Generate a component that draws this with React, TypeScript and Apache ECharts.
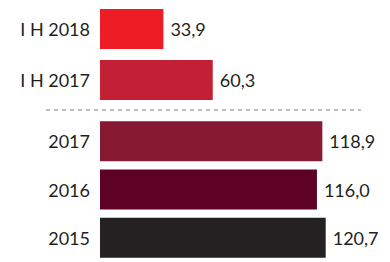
import React, { useEffect, useRef } from "react";
import * as echarts from "echarts";

const halfCategories = ["I H 2018", "I H 2017"];
const halfValues = [33.9, 60.3];
const halfColors = ["#EE1D25", "#C42035"];

const yearCategories = ["2017", "2016", "2015"];
const yearValues = [118.9, 116.0, 120.7];
const yearColors = ["#871A33", "#5D0222", "#242122"];

const FONT = "Lato";
const TEXT_COLOR = "#231F20";

export default function App() {
  const ref = useRef<HTMLDivElement>(null);

  useEffect(() => {
    document.body.style.margin = "0";
    if (!ref.current) return;
    const chart = echarts.init(ref.current, null, { renderer: "svg" });

    const labelFmt = (p: any) => Number(p.value).toFixed(1).replace(".", ",");

    const catAxis = (gridIndex: number, data: string[]) => ({
      type: "category" as const,
      gridIndex,
      data,
      inverse: true,
      axisLine: { show: false },
      axisTick: { show: false },
      axisLabel: {
        fontSize: 18,
        fontFamily: FONT,
        color: TEXT_COLOR,
        margin: 10,
      },
    });

    const valAxis = (gridIndex: number) => ({
      type: "value" as const,
      gridIndex,
      min: 0,
      max: 150,
      show: false,
    });

    const barSeries = (idx: number, values: number[], colors: string[]) => ({
      type: "bar" as const,
      xAxisIndex: idx,
      yAxisIndex: idx,
      barWidth: 40,
      data: values.map((v, i) => ({ value: v, itemStyle: { color: colors[i] } })),
      label: {
        show: true,
        position: "right" as const,
        distance: 7,
        fontSize: 18,
        fontFamily: FONT,
        color: TEXT_COLOR,
        formatter: labelFmt,
      },
    });

    chart.setOption({
      animation: false,
      grid: [
        { left: 100, top: 3.5, height: 102, width: 280.5 },
        { left: 100, top: 117, height: 150.75, width: 280.5 },
      ],
      xAxis: [valAxis(0), valAxis(1)],
      yAxis: [catAxis(0, halfCategories), catAxis(1, yearCategories)],
      series: [barSeries(0, halfValues, halfColors), barSeries(1, yearValues, yearColors)],
      graphic: [
        {
          type: "line",
          shape: { x1: 46, y1: 110, x2: 361, y2: 110 },
          style: { stroke: "#A8A8A8", lineWidth: 1.5, lineDash: [4, 4] },
        },
      ],
    });

    return () => chart.dispose();
  }, []);

  return <div ref={ref} style={{ width: 390, height: 262 }} />;
}
